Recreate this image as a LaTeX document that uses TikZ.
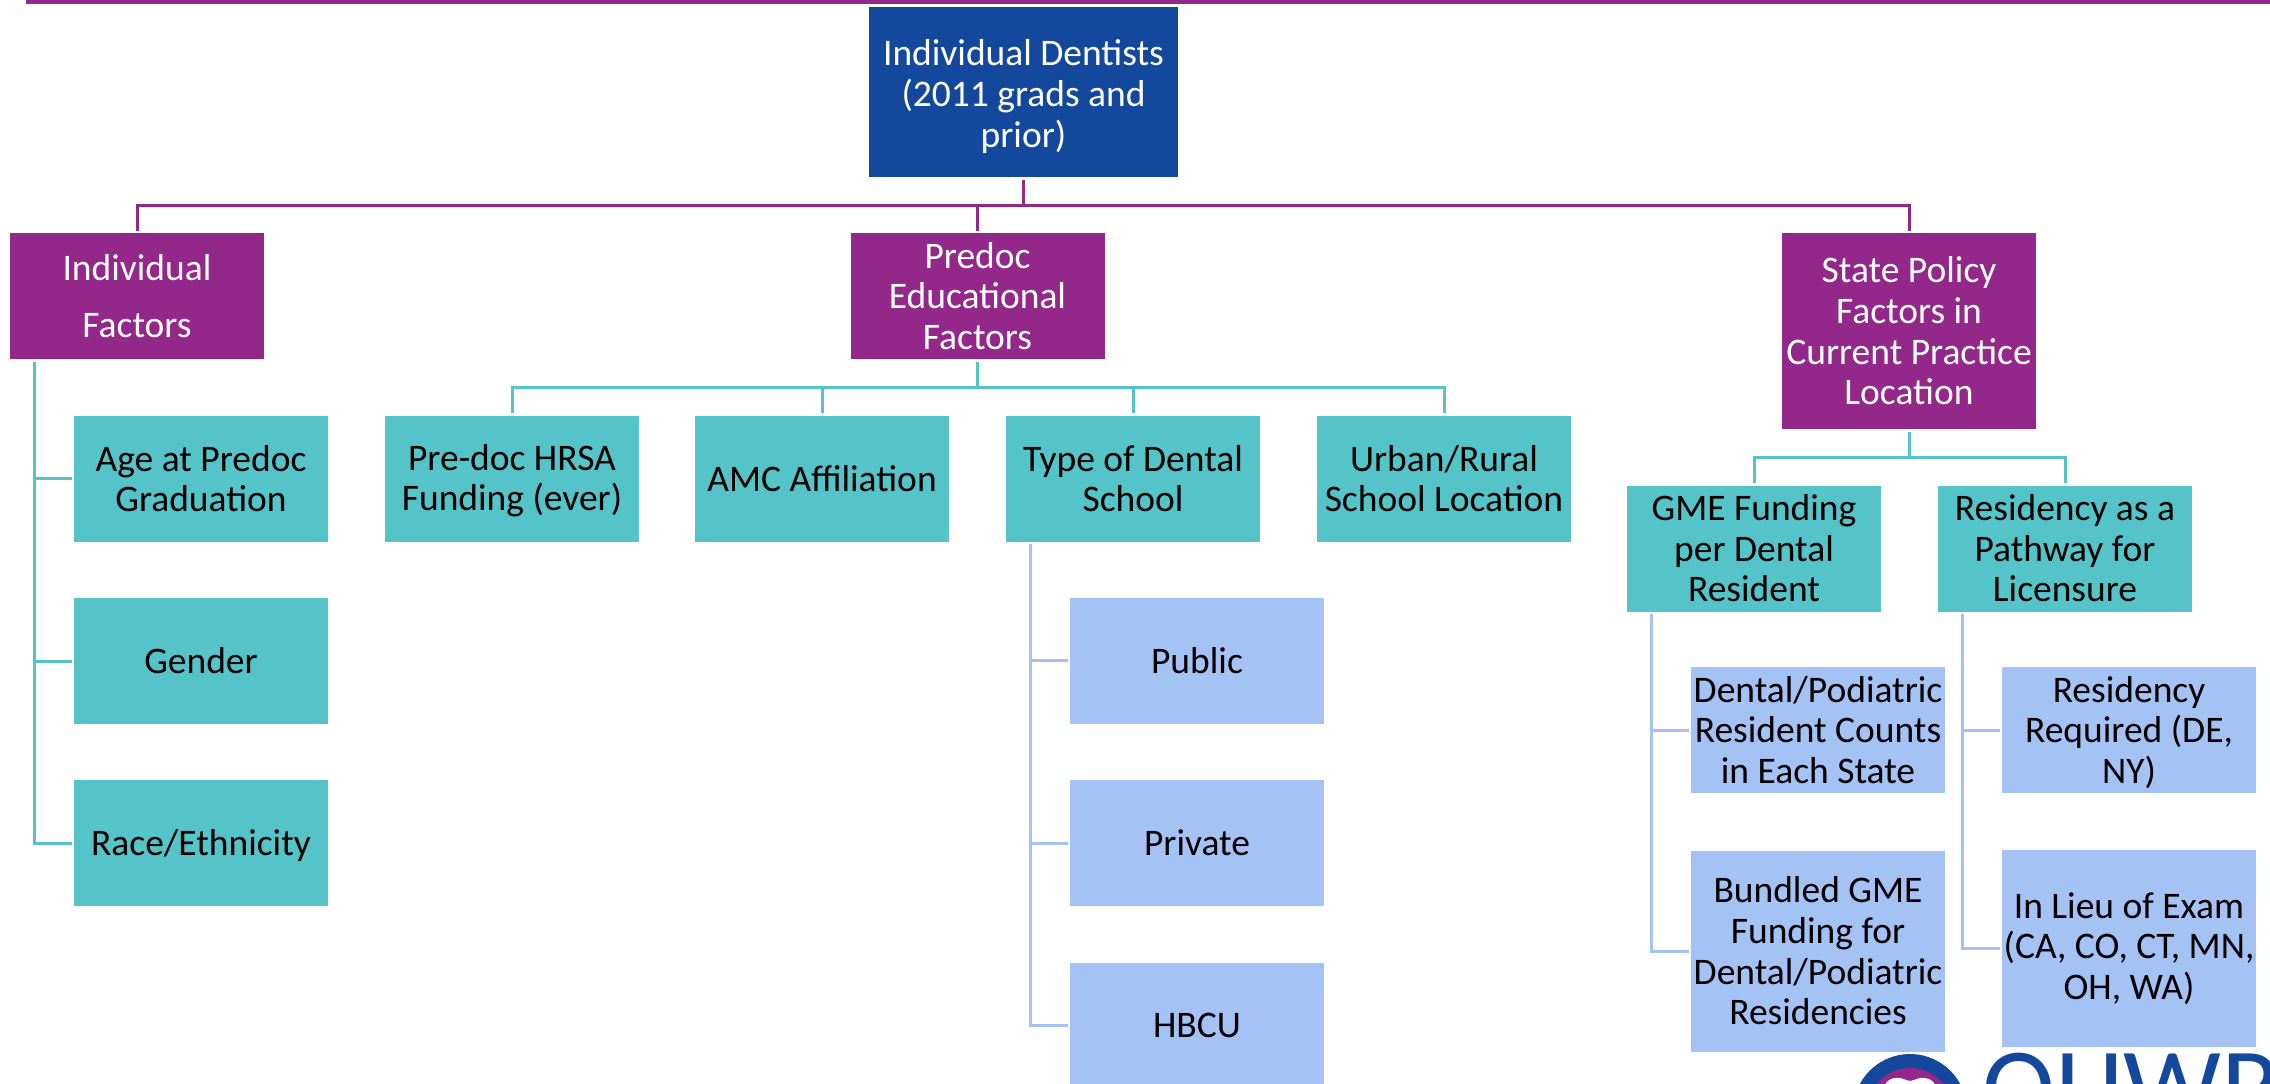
\documentclass[tikz,border=0pt]{standalone}
\usepackage{fontspec}
\setmainfont{Carlito}
\definecolor{navy}{HTML}{14489D}
\definecolor{plum}{HTML}{93278A}
\definecolor{teal2}{HTML}{55C4C8}
\definecolor{sky}{HTML}{A4C2F4}
\tikzset{
  boxbase/.style={rectangle,inner sep=0pt,outer sep=2.5pt,minimum width=254pt,align=center,
    font=\fontsize{37.5pt}{40.6pt}\selectfont},
  navybox/.style={boxbase,fill=navy,text=white,minimum width=309pt,minimum height=170pt},
  plumbox/.style={boxbase,fill=plum,text=white,minimum height=126pt},
  tealbox/.style={boxbase,fill=teal2,text=black,minimum height=126pt},
  skybox/.style={boxbase,fill=sky,text=black,minimum height=126pt},
  pconn/.style={draw=plum,line width=3pt},
  tconn/.style={draw=teal2,line width=3pt},
  sconn/.style={draw=sky,line width=3pt}
}
\begin{document}
\begin{tikzpicture}[x=1pt,y=-1pt]
\useasboundingbox (0,0) rectangle (2270,1084);
\clip (0,0) rectangle (2270,1084);
\fill[plum] (26,0) rectangle (2270,4);

% Nodes
\node[navybox] (dent) at (1023.5,92) {\rule{0pt}{35pt}Individual Dentists\\(2011 grads and\\prior)};
\node[plumbox,font=\fontsize{37.5pt}{57pt}\selectfont] (ind) at (137,296) {Individual\\Factors};
\node[plumbox] (pre) at (977.5,296) {Predoc\\Educational\\Factors};
\node[plumbox,minimum height=196pt] (state) at (1909,331) {State Policy\\Factors in\\Current Practice\\Location};

\node[tealbox] (age) at (201,478.5) {Age at Predoc\\Graduation};
\node[tealbox] (gender) at (201,661) {Gender};
\node[tealbox] (race) at (201,843) {\rule{0pt}{30.5pt}Race/Ethnicity};

\node[tealbox] (hrsa) at (512,478.5) {\rule{0pt}{30.5pt}Pre-doc HRSA\\Funding (ever)};
\node[tealbox] (amc) at (822,478.5) {AMC Affiliation};
\node[tealbox] (type) at (1133,478.5) {Type of Dental\\School};
\node[tealbox] (urban) at (1444,478.5) {Urban/Rural\\School Location};

\node[skybox] (public) at (1197,660.5) {Public};
\node[skybox] (private) at (1197,843) {Private};
\node[skybox] (hbcu) at (1197,1025.5) {HBCU};

\node[tealbox] (gme) at (1754,548.5) {GME Funding\\per Dental\\Resident};
\node[tealbox] (resid) at (2065,548.5) {Residency as a\\Pathway for\\Licensure};

\node[skybox] (counts) at (1818,730) {Dental/Podiatric\\Resident Counts\\in Each State};
\node[skybox,minimum height=201pt] (bundled) at (1818,951) {Bundled GME\\Funding for\\Dental/Podiatric\\Residencies};
\node[skybox] (req) at (2129,730) {\rule{0pt}{30.5pt}Residency\\Required (DE,\\NY)};
\node[skybox,minimum height=197pt] (lieu) at (2129,948.5) {In Lieu of Exam\\(CA, CO, CT, MN,\\OH, WA)};

% Routing helpers
\coordinate (busA) at (0,205);
\coordinate (busB) at (0,387);
\coordinate (busC) at (0,457);
\coordinate (trunkI) at (34,0);
\coordinate (trunkT) at (1030,0);
\coordinate (trunkG) at (1651,0);
\coordinate (trunkR) at (1962,0);

% Connectors
\draw[pconn] (dent.south) -- (dent.south |- busA) -| (ind.north);
\draw[pconn] (dent.south |- busA) -| (pre.north);
\draw[pconn] (dent.south |- busA) -| (state.north);

\draw[tconn] (pre.south) -- (pre.south |- busB) -| (hrsa.north);
\draw[tconn] (pre.south |- busB) -| (amc.north);
\draw[tconn] (pre.south |- busB) -| (type.north);
\draw[tconn] (pre.south |- busB) -| (urban.north);

\draw[tconn] (state.south) -- (state.south |- busC) -| (gme.north);
\draw[tconn] (state.south |- busC) -| (resid.north);

\draw[tconn] (ind.south -| trunkI) |- (age.west);
\draw[tconn] (ind.south -| trunkI) |- (gender.west);
\draw[tconn] (ind.south -| trunkI) |- (race.west);

\draw[sconn] (type.south -| trunkT) |- (public.west);
\draw[sconn] (type.south -| trunkT) |- (private.west);
\draw[sconn] (type.south -| trunkT) |- (hbcu.west);

\draw[sconn] (gme.south -| trunkG) |- (counts.west);
\draw[sconn] (gme.south -| trunkG) |- (bundled.west);

\draw[sconn] (resid.south -| trunkR) |- (req.west);
\draw[sconn] (resid.south -| trunkR) |- (lieu.west);

% Logo, cut by the lower edge of the picture
\fill[navy] (1910,1111) circle (57);
\fill[plum] (1910,1111) circle (43);
\fill[white] (1884,1090) .. controls (1884,1080) and (1893,1077) .. (1900,1078)
  .. controls (1905,1079) and (1907,1081) .. (1910,1081)
  .. controls (1913,1081) and (1915,1079) .. (1920,1078)
  .. controls (1927,1077) and (1936,1080) .. (1936,1090) -- cycle;
\node[anchor=base west,inner sep=0pt,text=navy,font=\fontsize{110pt}{110pt}\selectfont] (logo) at (1982,1124) {OHWR};
\end{tikzpicture}
\end{document}
